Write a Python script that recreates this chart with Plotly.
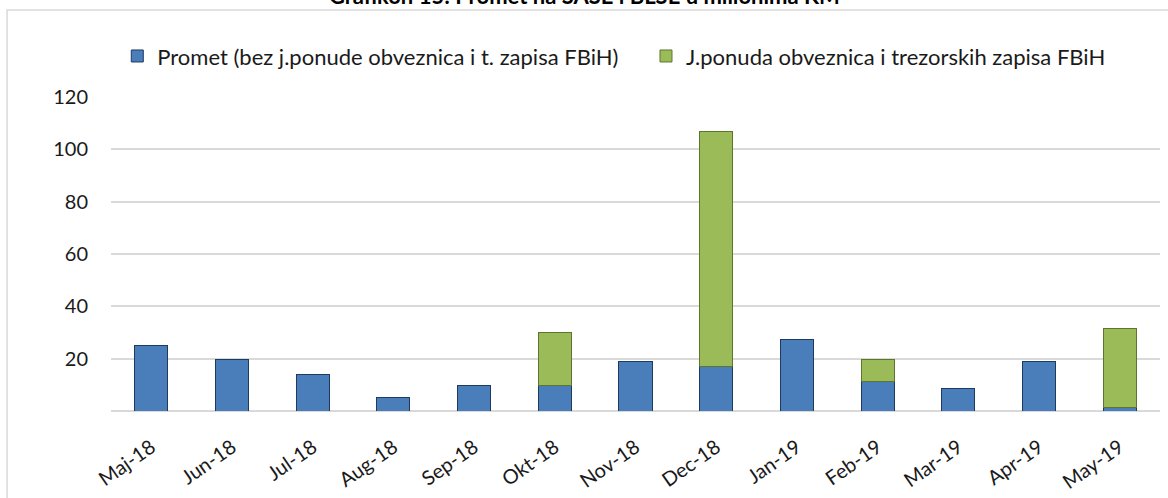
import plotly.graph_objects as go

months = ["Maj-18", "Jun-18", "Jul-18", "Aug-18", "Sep-18", "Okt-18", "Nov-18",
          "Dec-18", "Jan-19", "Feb-19", "Mar-19", "Apr-19", "May-19"]
promet = [25.2, 19.5, 14.1, 5.3, 9.8, 9.9, 19.1, 16.9, 27.5, 11.2, 8.7, 19.1, 1.3]
javna_ponuda = [None, None, None, None, None, 20.2, None, 89.8, None, 8.6, None, None, 30.3]

name_promet = "Promet (bez j.ponude obveznica i t. zapisa FBiH)"
name_ponuda = "J.ponuda obveznica i trezorskih zapisa FBiH"
title_text = "Grafikon 15: Promet na SASE i BLSE u milionima KM"

font_family = "Lato, 'Open Sans', sans-serif"

fig = go.Figure()
fig.add_trace(go.Bar(
    x=months, y=promet, name=name_promet, legend="legend",
    marker=dict(color="#4a7ebb", line=dict(color="#1f3a5f", width=1)),
))
fig.add_trace(go.Bar(
    x=months, y=javna_ponuda, name=name_ponuda, legend="legend2",
    marker=dict(color="#9bbb59", line=dict(color="#5e7530", width=1)),
))

legend_style = dict(orientation="h", yanchor="middle", y=1.13,
                    xanchor="left", font=dict(size=22), bgcolor="rgba(0,0,0,0)")

fig.update_layout(
    barmode="stack",
    bargap=0.59,
    width=1168,
    height=498,
    margin=dict(l=111, r=8, t=97, b=87, autoexpand=False),
    paper_bgcolor="white",
    plot_bgcolor="white",
    font=dict(family=font_family, size=20, color="#1a1a1a"),
    showlegend=True,
    legend=dict(legend_style, x=0.006),
    legend2=dict(legend_style, x=0.51),
    xaxis=dict(
        tickangle=-35,
        showgrid=False,
        showline=False,
        ticks="",
        ticklabelstandoff=20,
        tickfont=dict(size=20),
    ),
    yaxis=dict(
        range=[0, 120],
        tickvals=[20, 40, 60, 80, 100, 120],
        showgrid=True,
        gridcolor="#d9d9d9",
        gridwidth=1.5,
        zeroline=True,
        zerolinecolor="#d9d9d9",
        zerolinewidth=2,
        ticks="",
        ticklabelstandoff=22,
        tickfont=dict(size=20),
    ),
    shapes=[dict(
        type="rect", xref="paper", yref="paper",
        x0=-0.0991, x1=1.01, y0=1.277, y1=-0.35,
        line=dict(color="#d9d9d9", width=1.5),
        fillcolor="rgba(0,0,0,0)", layer="below",
    )],
    annotations=[dict(
        text="<b>" + title_text + "</b>",
        xref="paper", yref="paper",
        x=0.451, y=1.274, xanchor="center", yanchor="bottom",
        showarrow=False, font=dict(size=22, color="#000000"),
    )],
)

fig.write_html(
    "out.html",
    config={"displayModeBar": False},
    post_script="document.body.style.margin='0';document.body.style.overflow='hidden';",
)
